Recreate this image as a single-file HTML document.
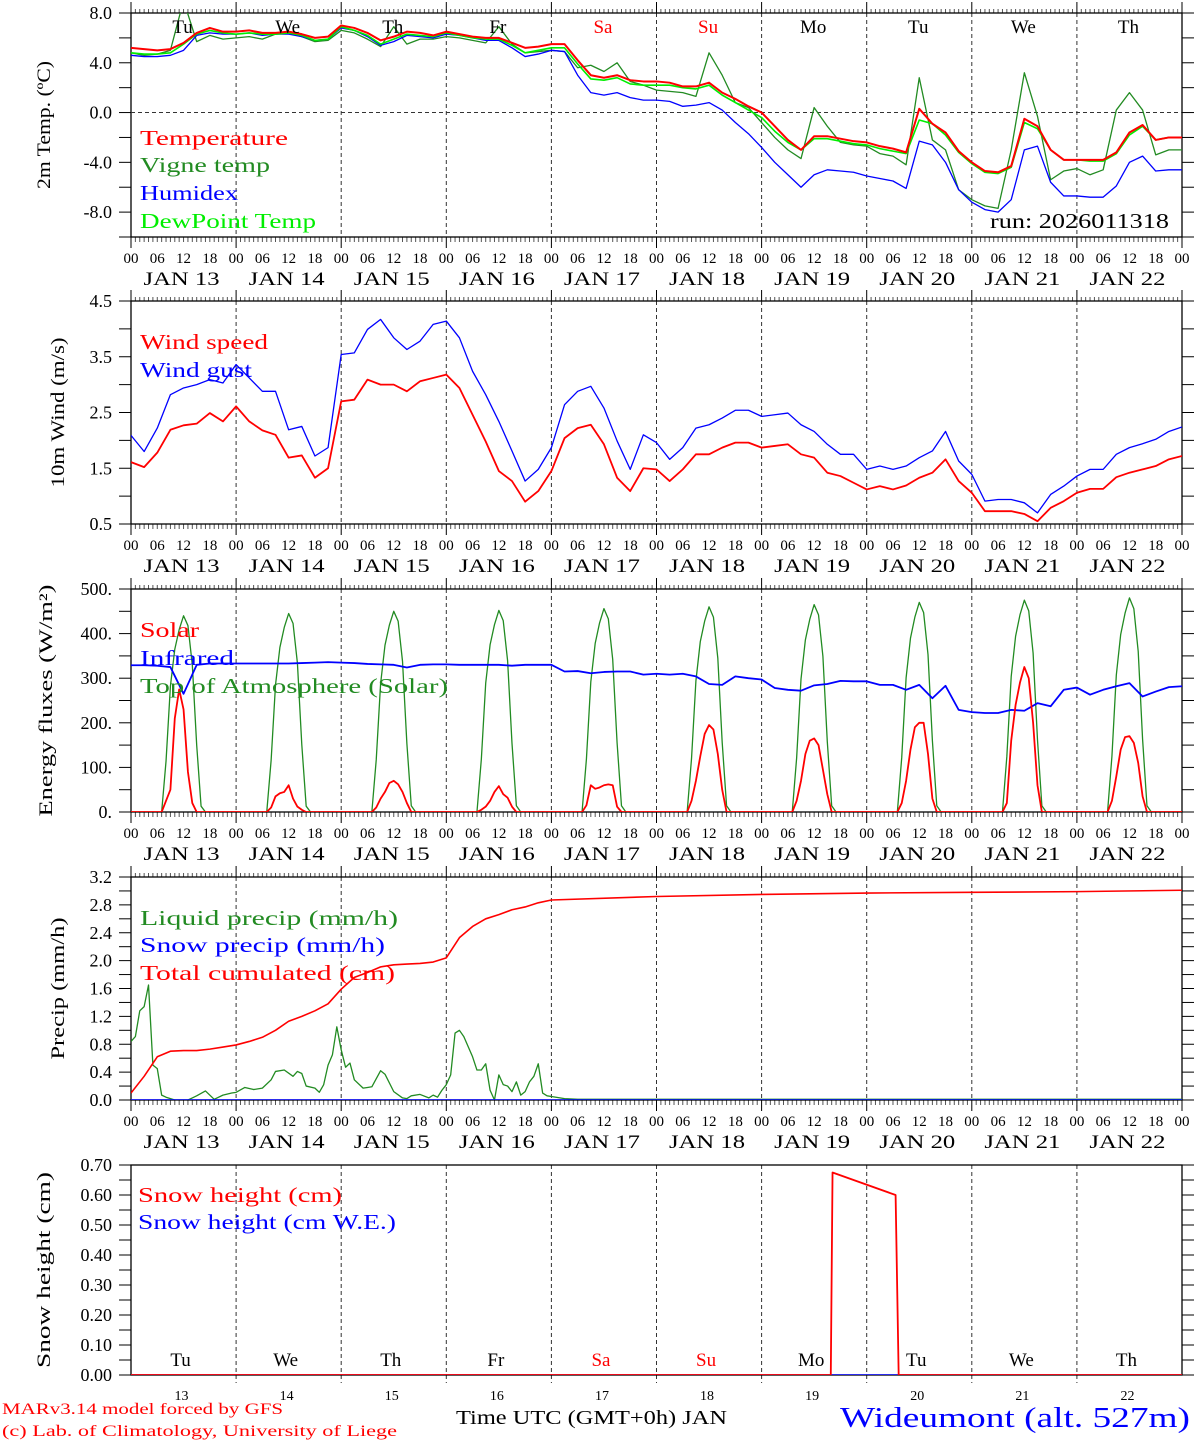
<!DOCTYPE html>
<html><head><meta charset="utf-8"><style>
html,body{margin:0;padding:0;background:#fff;}
svg{display:block;font-family:"Liberation Serif",serif;}
</style></head><body>
<svg id="chart" width="1194" height="1440" viewBox="0 0 1194 1440" xmlns="http://www.w3.org/2000/svg"></svg>
<script>
// ---------- DATA ----------
const days=["13","14","15","16","17","18","19","20","21","22"];
const dayNames=["Tu","We","Th","Fr","Sa","Su","Mo","Tu","We","Th"];
const hourLabels=["00","06","12","18"];
const tempTicks=[8.0,4.0,0.0,-4.0,-8.0];
const windTicks=[4.5,3.5,2.5,1.5,0.5];
const fluxTicks=[500,400,300,200,100,0];
const precTicks=[3.2,2.8,2.4,2.0,1.6,1.2,0.8,0.4,0.0];
const snowTicks=[0.7,0.6,0.5,0.4,0.3,0.2,0.1,0.0];
// 3-hourly series (81 values, hour 0..240)
const temperature=[5.2,5.1,5.0,5.1,5.6,6.4,6.8,6.5, 6.5,6.6,6.4,6.4,6.5,6.3,6.0,6.1, 7.0,6.8,6.4,5.8,6.1,6.5,6.4,6.2, 6.5,6.3,6.1,6.0,6.0,5.6,5.2,5.3, 5.5,5.5,4.2,3.0,2.8,3.0,2.6,2.5, 2.5,2.4,2.1,2.1,2.4,1.6,1.1,0.5, 0.0,-1.1,-2.2,-3.0,-1.9,-1.9,-2.1,-2.3, -2.4,-2.7,-2.9,-3.2,0.3,-0.9,-1.6,-3.1, -4.0,-4.7,-4.8,-4.3,-0.5,-1.1,-3.0,-3.8, -3.8,-3.8,-3.8,-3.2,-1.6,-1.0,-2.2,-2.0,-2.0];
const vigne=[4.8,4.6,4.7,5.0,9.0,5.7,6.2,5.9, 6.0,6.1,5.9,6.3,6.4,6.1,5.7,5.8, 6.6,6.4,5.9,5.3,6.9,5.5,5.9,5.9, 6.1,6.0,5.8,5.6,6.9,5.5,4.8,4.9, 5.0,4.9,3.6,3.8,3.3,4.0,2.5,2.2, 1.8,1.7,1.6,1.3,4.8,3.0,0.8,0.4, -0.8,-2.0,-3.0,-3.7,0.4,-1.1,-2.4,-2.6, -2.7,-3.3,-3.5,-4.2,2.8,-2.2,-3.0,-6.2, -7.0,-7.5,-7.7,-3.0,3.2,-0.3,-5.4,-4.7, -4.5,-5.0,-4.6,0.2,1.6,0.2,-3.4,-3.0,-3.0];
const humidex=[4.6,4.5,4.5,4.6,5.0,6.2,6.4,6.3, 6.3,6.4,6.2,6.3,6.3,6.1,5.8,5.9, 6.8,6.6,6.1,5.4,5.7,6.2,6.1,6.0, 6.3,6.2,6.0,5.8,5.8,5.2,4.5,4.7, 5.0,4.9,3.0,1.6,1.4,1.6,1.2,1.0, 1.0,0.9,0.5,0.6,0.8,0.2,-0.8,-1.7, -2.8,-4.0,-5.0,-6.0,-5.0,-4.6,-4.7,-4.8, -5.1,-5.3,-5.5,-6.1,-2.3,-2.6,-4.0,-6.2, -7.2,-7.8,-8.0,-7.0,-3.0,-2.7,-5.6,-6.7, -6.7,-6.8,-6.8,-5.9,-4.0,-3.5,-4.7,-4.6,-4.6];
const dewpoint=[4.8,4.7,4.7,4.8,5.5,6.3,6.6,6.4, 6.3,6.4,6.3,6.3,6.4,6.2,5.8,5.9, 6.9,6.6,6.2,5.5,5.9,6.3,6.2,6.1, 6.4,6.2,6.0,5.9,5.9,5.4,4.8,5.0, 5.2,5.2,3.9,2.7,2.6,2.8,2.3,2.2, 2.2,2.2,2.0,1.9,2.2,1.4,0.8,0.2, -0.4,-1.5,-2.4,-3.0,-2.1,-2.1,-2.3,-2.5, -2.6,-2.9,-3.1,-3.3,-0.6,-0.9,-1.8,-3.2, -4.1,-4.8,-4.9,-4.4,-0.8,-1.3,-3.0,-3.8, -3.8,-3.9,-3.9,-3.3,-1.8,-1.1,-2.2,-2.0,-2.0];
const windSpeed=[1.61,1.52,1.78,2.19,2.27,2.30,2.49,2.34, 2.61,2.34,2.18,2.10,1.69,1.73,1.33,1.50, 2.70,2.73,3.09,3.00,3.00,2.88,3.06,3.12, 3.18,2.94,2.46,1.98,1.45,1.27,0.90,1.09, 1.45,2.04,2.22,2.28,1.93,1.33,1.09,1.50, 1.48,1.27,1.48,1.75,1.75,1.87,1.96,1.96, 1.87,1.90,1.93,1.75,1.69,1.42,1.36,1.24, 1.12,1.18,1.12,1.19,1.33,1.42,1.66,1.27, 1.06,0.73,0.73,0.73,0.68,0.55,0.79,0.91, 1.06,1.13,1.13,1.34,1.42,1.48,1.54,1.66,1.72];
const windGust=[2.09,1.80,2.22,2.82,2.94,3.00,3.09,3.03, 3.36,3.12,2.88,2.88,2.19,2.25,1.72,1.87, 3.54,3.57,3.99,4.17,3.84,3.63,3.78,4.08, 4.14,3.84,3.24,2.82,2.34,1.81,1.27,1.48, 1.87,2.64,2.88,2.97,2.58,1.99,1.48,2.10, 1.96,1.66,1.87,2.22,2.28,2.40,2.54,2.54, 2.43,2.46,2.49,2.28,2.16,1.93,1.75,1.75, 1.48,1.54,1.48,1.54,1.69,1.81,2.16,1.63, 1.39,0.91,0.94,0.94,0.88,0.70,1.03,1.18, 1.36,1.48,1.48,1.75,1.87,1.94,2.02,2.16,2.24];
const infrared=[329,329,328,325,265,330,333,333, 333,333,333,333,333,334,335,336, 335,334,332,331,330,324,330,331, 331,330,330,330,330,328,330,330, 330,315,316,311,314,315,315,308, 310,308,310,304,287,285,304,300, 297,278,274,272,284,287,294,293, 293,285,285,274,285,255,283,229, 224,222,222,229,227,244,237,274, 279,263,274,282,289,259,270,280,282];
// daily sun-hours series
const toaHours=[7,8,9,10,11,12,13,14,15,16,17];
const toaDays=[[0,114,282,365,409,440,418,330,150,13,0],[0,116,285,369,414,445,423,334,151,13,0],[0,117,288,374,419,450,428,338,153,14,0],[0,118,289,375,420,452,429,339,154,14,0],[0,119,292,378,424,456,433,342,155,14,0],[0,120,294,382,428,460,437,345,156,14,0],[0,121,298,386,432,465,442,349,158,14,0],[0,122,301,390,437,470,447,353,160,14,0],[0,124,304,394,442,475,451,356,162,14,0],[0,125,307,398,446,480,456,360,163,14,0]];
const solarHours=[7,8,9,10,11,12,13,14,15,16];
const solarDays=[[0,25,50,210,275,230,90,20,0,0],[0,10,35,42,45,60,30,12,5,0],[0,10,30,45,65,70,62,45,20,0],[0,5,12,25,45,58,40,32,12,0],[0,15,60,52,55,60,62,60,12,0],[0,25,70,125,175,195,185,130,50,0],[0,25,70,130,160,165,150,95,40,0],[0,20,70,140,190,200,200,130,30,0],[0,20,160,240,290,325,300,200,60,0],[0,25,80,140,168,170,155,110,35,0]];
// precipitation
const liqHours=[0,1,2,3,4,5,6,7,8,9,10,13,14,15,17,19,21,23, 24,26,28,30,32,33,35,37,38,39,40,42,43,44,45,46,47, 48,49,50,51,53,54,55,57,58,60,62,63,64,66,68,69,70,71, 72,73,74,75,76,78,79,80,81,82,83,84,85,86,87,88,89,90,91,92,93,94,95, 96,99,102,120,150,180,210,240];
const liqVals=[0.84,0.91,1.28,1.34,1.65,0.50,0.45,0.07,0.04,0.02,0,0,0.03,0.06,0.13,0.01,0.07,0.10, 0.11,0.18,0.15,0.17,0.29,0.41,0.43,0.34,0.41,0.38,0.20,0.17,0.11,0.22,0.50,0.65,1.05, 0.72,0.47,0.53,0.29,0.17,0.18,0.19,0.42,0.37,0.12,0.03,0.02,0.06,0.08,0.03,0.07,0.04,0.14, 0.22,0.36,0.96,1.00,0.91,0.62,0.43,0.43,0.52,0.14,0,0.36,0.22,0.20,0.12,0.26,0.07,0.12,0.26,0.34,0.52,0.10,0.06, 0.05,0.02,0.01,0.01,0.01,0.01,0.01,0.01];
const cumHours=[0,3,6,9,12,15,18,21,24,27,30,33,36,39,42,45,48,51,54,57,60,63,66,69,72,75,78,81,84,87,90,93,96,120,144,168,192,216,240];
const cumVals=[0.10,0.34,0.62,0.70,0.71,0.71,0.73,0.76, 0.79,0.84,0.90,1.00,1.13,1.20,1.28,1.38, 1.59,1.76,1.83,1.91,1.94,1.95,1.96,1.98, 2.04,2.33,2.49,2.60,2.66,2.73,2.77,2.83, 2.87,2.92,2.95,2.97,2.98,2.99,3.01];
const snowPrecHours=[0,240];
const snowPrecVals=[0,0];
const snowHours=[0,159.8,160.2,174.6,175.3,240];
const snowVals=[0,0,0.675,0.60,0,0];
const snowWEHours=[0,240];
const snowWEVals=[0,0];

// ---------- DRAWING ----------
const NS='http://www.w3.org/2000/svg';
const svg=document.getElementById('chart');
const X0=131,X1=1182;
function X(h){return X0+h*(X1-X0)/240;}
const panels=[
 {top:13,bot:237,min:-10,max:8},
 {top:301,bot:524,min:0.5,max:4.5},
 {top:589,bot:812,min:0,max:500},
 {top:877,bot:1100,min:0,max:3.2},
 {top:1165,bot:1375,min:0,max:0.7}];
function Y(p,v){return p.bot-(v-p.min)/(p.max-p.min)*(p.bot-p.top);}
function mk(tag,attrs,parent){const e=document.createElementNS(NS,tag);for(const k in attrs)e.setAttribute(k,attrs[k]);(parent||svg).appendChild(e);return e;}
function txt(s,x,y,size,color,anchor,len){const t=mk('text',{x:x,y:y,'font-size':size,fill:color||'#000','text-anchor':anchor||'start'});if(len){t.setAttribute('textLength',len);t.setAttribute('lengthAdjust','spacingAndGlyphs');}t.textContent=s;return t;}

const defs=mk('defs',{});
panels.forEach((p,i)=>{const cp=mk('clipPath',{id:'clip'+i},defs);mk('rect',{x:X0,y:p.top,width:X1-X0,height:p.bot-p.top},cp);});

function frame(pi,name,opts){
 const p=panels[pi];
 const g=mk('g',{});
 
 
 // day dashed lines
 for(let d=1;d<10;d++){
  const l=mk('line',{x1:X(d*24),x2:X(d*24),y1:p.top,y2:p.bot+(opts.snow?8:0),stroke:'#333','stroke-width':1,'stroke-dasharray':'4,3'},g);
  
  
 }
 if(!opts.snow){
  for(let h=0;h<=240;h++){
   const big=h%24===0;
   const a=mk('line',{x1:X(h),x2:X(h),y1:p.top-(big?11:4),y2:p.top,stroke:big?'#000':'#555','stroke-width':1},g);
   
   
   const b=mk('line',{x1:X(h),x2:X(h),y1:p.bot,y2:p.bot+(big?11:5),stroke:big?'#000':'#555','stroke-width':1},g);
   
   
  }
 }
 const r=mk('rect',{x:X0,y:p.top,width:X1-X0,height:p.bot-p.top,fill:'none',stroke:'#000','stroke-width':1.3},g);
 
 
 // y ticks
 opts.minor.forEach(v=>{
  const a=mk('line',{x1:X0-12,x2:X0,y1:Y(p,v),y2:Y(p,v),stroke:'#000','stroke-width':1},g);
  
  
  const b=mk('line',{x1:X1,x2:X1+12,y1:Y(p,v),y2:Y(p,v),stroke:'#000','stroke-width':1},g);
  
  
 });
 opts.ticks.forEach(v=>{
  const t=txt(opts.fmt(v),X0-19,Y(p,v)+6,18,'#000','end');
  
  
 });
 // y title
 const cy=(p.top+p.bot)/2;
 const tt=txt(opts.title,0,0,19,'#000','middle',opts.tlen);
 tt.setAttribute('transform','translate('+opts.tx+','+cy+') rotate(-90)');
 
 
 // x labels
 if(!opts.snow){
  for(let d=0;d<10;d++){
   hourLabels.forEach((s,k)=>{
    const t=txt(s,X(d*24+k*6),p.bot+26,15,'#000','middle');
    
    
   });
   const j=txt('JAN  '+days[d],X(d*24+12)-2,p.bot+48,19,'#000','middle',76);
   
   
  }
  const e=txt('00',X(240),p.bot+26,15,'#000','middle');
  
  
 }
}
function steps(a,b,s){const r=[];for(let v=a;v<=b+1e-9;v+=s)r.push(+v.toFixed(4));return r;}

frame(0,'temp',{ticks:tempTicks,minor:steps(-10,8,2),fmt:v=>v.toFixed(1),title:'2m Temp. (ºC)',tx:50,tlen:128});
frame(1,'wind',{ticks:windTicks,minor:steps(0.5,4.5,0.5),fmt:v=>v.toFixed(1),title:'10m Wind (m/s)',tx:64,tlen:150});
frame(2,'flux',{ticks:fluxTicks,minor:steps(0,500,50),fmt:v=>v+'.',title:'Energy fluxes (W/m²)',tx:52,tlen:232});
frame(3,'precip',{ticks:precTicks,minor:steps(0,3.2,0.2),fmt:v=>v.toFixed(1),title:'Precip (mm/h)',tx:64,tlen:142});
frame(4,'snow',{ticks:snowTicks,minor:steps(0,0.7,0.05),fmt:v=>v.toFixed(2),title:'Snow height (cm)',tx:50,tlen:196,snow:true});

// zero line panel 1
const zl=mk('line',{x1:X0,x2:X1,y1:Y(panels[0],0),y2:Y(panels[0],0),stroke:'#333','stroke-width':1,'stroke-dasharray':'4,3'});



function series(pi,hours,vals,color,w,name){
 const p=panels[pi];
 let d='';
 for(let i=0;i<vals.length;i++){d+=(i?'L':'M')+X(hours[i]).toFixed(2)+','+Y(p,vals[i]).toFixed(2);}
 const e=mk('path',{d:d,fill:'none',stroke:color,'stroke-width':w,'stroke-linejoin':'round','clip-path':'url(#clip'+pi+')'});
 
 
 return e;
}
const h3=temperature.map((_,i)=>i*3);
series(0,h3,vigne,'#228b22',1.3,'vigne-temp-line');
series(0,h3,humidex,'#0000ff',1.3,'humidex-line');
series(0,h3,dewpoint,'#00ee00',1.6,'dewpoint-line');
series(0,h3,temperature,'#ff0000',2,'temperature-line');
series(1,h3,windGust,'#0000ff',1.3,'wind-gust-line');
series(1,h3,windSpeed,'#ff0000',1.8,'wind-speed-line');
function dailyHours(base){const H=[0],V=[0];return {H,V};}
function daySeries(hrs,dayVals){const H=[0],V=[0];dayVals.forEach((arr,d)=>{arr.forEach((v,k)=>{H.push(d*24+hrs[k]);V.push(v);});});H.push(240);V.push(0);return {H,V};}
const toa=daySeries(toaHours,toaDays);
series(2,toa.H,toa.V,'#228b22',1.3,'toa-solar-line');
series(2,h3,infrared,'#0000ff',1.8,'infrared-line');
const sol=daySeries(solarHours,solarDays);
series(2,sol.H,sol.V,'#ff0000',1.8,'solar-line');
series(3,liqHours,liqVals,'#228b22',1.3,'liquid-precip-line');
series(3,snowPrecHours,snowPrecVals,'#0000ff',1.5,'snow-precip-line');
series(3,cumHours,cumVals,'#ff0000',1.6,'total-cumulated-line');
series(4,snowWEHours,snowWEVals,'#0000ff',1.5,'snow-we-line');
series(4,snowHours,snowVals,'#ff0000',1.8,'snow-height-line');

// day names
dayNames.forEach((s,d)=>{
 const red=(d===4||d===5);
 const t=txt(s,X(d*24+12)-1,33,19,red?'#ff0000':'#000','middle');
 
 
 const b=txt(s,X(d*24+12)-3,1366,19,red?'#ff0000':'#000','middle');
 
 
 const n=txt(days[d],X(d*24+12)-2,1400,14,'#000','middle');
 
 
});

// legends
function leg(s,x,y,c,len,name){const t=txt(s,x,y,21,c,'start',len);}
leg('Temperature',140,145,'#ff0000',148,'legend-temperature');
leg('Vigne temp',140,172,'#228b22',130,'legend-vigne-temp');
leg('Humidex',140,200,'#0000ff',98,'legend-humidex');
leg('DewPoint Temp',140,228,'#00ee00',176,'legend-dewpoint');
leg('run: 2026011318',990,228,'#000',179,'run-label');
leg('Wind speed',140,349,'#ff0000',128,'legend-wind-speed');
leg('Wind gust',140,377,'#0000ff',112,'legend-wind-gust');
leg('Solar',140,637,'#ff0000',59,'legend-solar');
leg('Infrared',140,665,'#0000ff',94,'legend-infrared');
leg('Top of Atmosphere (Solar)',140,693,'#228b22',308,'legend-toa');
leg('Liquid precip (mm/h)',140,925,'#228b22',258,'legend-liquid-precip');
leg('Snow precip (mm/h)',140,952,'#0000ff',245,'legend-snow-precip');
leg('Total cumulated (cm)',140,980,'#ff0000',255,'legend-total-cumulated');
leg('Snow height (cm)',138,1202,'#ff0000',204,'legend-snow-height');
leg('Snow height (cm W.E.)',138,1229,'#0000ff',258,'legend-snow-we');

// footer
const f1=txt('MARv3.14 model forced by GFS',2,1414,16,'#ff0000','start',281);


const f2=txt('(c) Lab. of Climatology, University of Liege',2,1436,16,'#ff0000','start',395);


const f3=txt('Time UTC (GMT+0h) JAN',456,1424,20,'#000','start',271);


const f4=txt('Wideumont (alt. 527m)',840,1427,28,'#0000ff','start',350);


</script>
</body></html>
